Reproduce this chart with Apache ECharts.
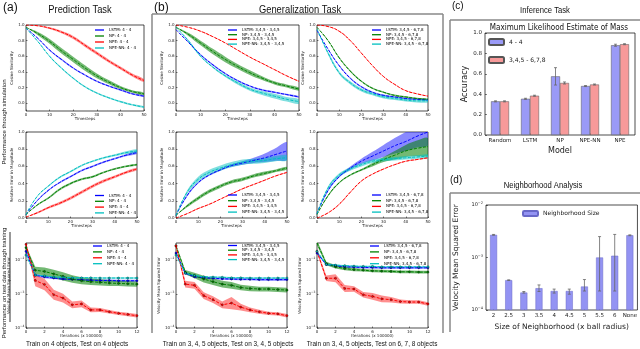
<!DOCTYPE html>
<html>
<head>
<meta charset="utf-8">
<script src="https://cdn.jsdelivr.net/npm/echarts@6.0.0/dist/echarts.min.js"></script>
<style>
html,body{margin:0;padding:0;background:#fff;}
#chart{width:640px;height:349px;}
</style>
</head>
<body>
<div id="chart"></div>
<script>
// ================= DATA =================
const TIMESTEPS = [0,5,10,15,20,25,30,35,40,45,50];
const ITERATIONS = [0,1,2,3,4,5,6,7,8,9,10,11,12];
const TIME_TICKS = [0,10,20,30,40,50];
const ITER_TICKS = [0,2,4,6,8,10,12];
const FRACTION_TICKS = [0,0.2,0.4,0.6,0.8,1.0];
const LOG_TICKS = [1e-4,1e-3,1e-2];

const NAMES_44 = ['LSTM: 4 - 4','NP: 4 - 4','NPE: 4 - 4','NPE-NN: 4 - 4'];
const NAMES_345 = ['LSTM: 3,4,5 - 3,4,5','NP: 3,4,5 - 3,4,5','NPE: 3,4,5 - 3,4,5','NPE-NN: 3,4,5 - 3,4,5'];
const NAMES_678 = ['LSTM: 3,4,5 - 6,7,8','NP: 3,4,5 - 6,7,8','NPE: 3,4,5 - 6,7,8','NPE-NN: 3,4,5 - 6,7,8'];

// (a) cosine similarity, 4 - 4
const a1_lstm = [0.96,0.83,0.68,0.56,0.45,0.36,0.28,0.22,0.17,0.12,0.09];
const a1_np   = [0.97,0.89,0.79,0.67,0.56,0.45,0.35,0.27,0.20,0.15,0.12];
const a1_npe  = [1.00,0.99,0.96,0.91,0.84,0.74,0.64,0.54,0.45,0.36,0.29];
const a1_nn   = [0.96,0.79,0.60,0.45,0.32,0.21,0.13,0.07,0.02,-0.02,-0.05];
const a1_lstm_err = [0,0.005,0.008,0.01,0.01,0.01,0.01,0.01,0.01,0.01,0.01];
const a1_np_err   = [0,0.02,0.03,0.035,0.035,0.035,0.03,0.025,0.02,0.015,0.015];
const a1_npe_err  = [0,0.005,0.01,0.015,0.02,0.02,0.02,0.02,0.02,0.02,0.02];
const a1_nn_err   = [0,0.005,0.008,0.01,0.01,0.01,0.01,0.01,0.01,0.01,0.01];

// (a) relative error in magnitude, 4 - 4
const a2_lstm = [0.04,0.20,0.32,0.41,0.48,0.55,0.60,0.65,0.69,0.73,0.76];
const a2_np   = [0.04,0.15,0.23,0.33,0.40,0.45,0.48,0.53,0.57,0.60,0.62];
const a2_npe  = [0.01,0.06,0.12,0.17,0.23,0.30,0.37,0.43,0.48,0.53,0.57];
const a2_nn   = [0.04,0.25,0.37,0.47,0.54,0.61,0.66,0.70,0.73,0.76,0.78];
const a2_lstm_err = [0,0.005,0.008,0.01,0.01,0.01,0.01,0.01,0.01,0.012,0.015];
const a2_np_err   = [0,0.008,0.01,0.012,0.012,0.012,0.012,0.01,0.01,0.01,0.01];
const a2_npe_err  = [0,0.01,0.012,0.015,0.018,0.018,0.018,0.018,0.015,0.015,0.015];
const a2_nn_err   = [0,0.005,0.008,0.01,0.01,0.01,0.01,0.01,0.012,0.015,0.02];

// (a) velocity MSE through training, 4 - 4
const a3_lstm = [1.8e-2,3.6e-3,3.2e-3,2.95e-3,2.75e-3,2.7e-3,2.6e-3,2.55e-3,2.5e-3,2.5e-3,2.45e-3,2.45e-3,2.45e-3];
const a3_np   = [2.3e-2,5.0e-3,4.6e-3,3.9e-3,3.3e-3,2.75e-3,2.45e-3,2.3e-3,2.2e-3,2.1e-3,2.05e-3,2.0e-3,1.95e-3];
const a3_npe  = [2.9e-2,2.5e-3,1.9e-3,9.5e-4,7.6e-4,4.8e-4,5.1e-4,3.4e-4,3.4e-4,3.0e-4,2.7e-4,2.5e-4,2.3e-4];
const a3_nn   = [1.4e-2,3.6e-3,3.4e-3,3.15e-3,3.1e-3,3.0e-3,3.0e-3,3.0e-3,2.95e-3,2.95e-3,2.95e-3,2.95e-3,2.95e-3];
// band half-widths in decades
const a3_lstm_err = [0.03,0.04,0.04,0.03,0.03,0.03,0.03,0.03,0.03,0.03,0.03,0.03,0.03];
const a3_np_err   = [0.05,0.10,0.12,0.12,0.12,0.11,0.10,0.10,0.09,0.09,0.08,0.08,0.08];
const a3_npe_err  = [0.05,0.17,0.17,0.15,0.13,0.10,0.10,0.07,0.06,0.05,0.05,0.05,0.05];
const a3_nn_err   = [0.02,0.02,0.02,0.02,0.02,0.02,0.02,0.02,0.02,0.02,0.02,0.02,0.02];

// (b) cosine similarity, 3,4,5 - 3,4,5
const b1_lstm = [0.94,0.78,0.62,0.49,0.38,0.29,0.22,0.17,0.14,0.11,0.08];
const b1_np   = [0.97,0.88,0.77,0.66,0.56,0.47,0.39,0.32,0.26,0.22,0.18];
const b1_npe  = [1.00,0.97,0.92,0.85,0.77,0.68,0.59,0.51,0.43,0.35,0.28];
const b1_nn   = [0.97,0.80,0.60,0.46,0.35,0.26,0.18,0.13,0.09,0.05,0.02];
const b1_lstm_err = [0,0.005,0.008,0.01,0.01,0.01,0.01,0.01,0.01,0.01,0.01];
const b1_np_err   = [0,0.02,0.03,0.035,0.035,0.03,0.03,0.025,0.02,0.02,0.02];
const b1_npe_err  = [0,0.003,0.005,0.005,0.005,0.005,0.005,0.005,0.005,0.005,0.005];
const b1_nn_err   = [0,0.01,0.01,0.01,0.015,0.02,0.02,0.025,0.03,0.03,0.03];

// (b) cosine similarity, 3,4,5 - 6,7,8
const b2_lstm = [0.93,0.69,0.48,0.32,0.21,0.14,0.10,0.08,0.06,0.05,0.04];
const b2_np   = [0.97,0.80,0.58,0.41,0.28,0.19,0.14,0.10,0.08,0.06,0.05];
const b2_npe  = [1.00,0.98,0.92,0.80,0.64,0.48,0.34,0.24,0.16,0.12,0.09];
const b2_nn   = [0.95,0.64,0.39,0.26,0.17,0.12,0.08,0.06,0.04,0.03,0.03];
const b2_lstm_err = [0,0.005,0.008,0.01,0.01,0.01,0.01,0.01,0.01,0.01,0.01];
const b2_np_err   = [0,0.008,0.01,0.01,0.01,0.01,0.01,0.01,0.01,0.01,0.01];
const b2_npe_err  = [0,0.003,0.005,0.005,0.005,0.005,0.005,0.005,0.005,0.005,0.005];
const b2_nn_err   = [0,0.02,0.02,0.02,0.02,0.02,0.02,0.02,0.02,0.02,0.02];

// (b) relative error in magnitude, 3,4,5 - 3,4,5
const bm1_lstm = [0.03,0.26,0.41,0.50,0.56,0.61,0.64,0.67,0.70,0.74,0.78];
const bm1_np   = [0.03,0.14,0.23,0.31,0.37,0.42,0.45,0.49,0.52,0.55,0.58];
const bm1_npe  = [0.00,0.05,0.11,0.16,0.22,0.28,0.34,0.39,0.44,0.49,0.53];
const bm1_nn   = [0.03,0.30,0.45,0.53,0.58,0.62,0.65,0.66,0.67,0.69,0.70];
const bm1_lstm_err = [0,0.01,0.01,0.01,0.01,0.015,0.02,0.03,0.05,0.075,0.10];
const bm1_np_err   = [0,0.015,0.02,0.02,0.02,0.02,0.02,0.02,0.02,0.015,0.015];
const bm1_npe_err  = [0,0.004,0.005,0.005,0.005,0.005,0.005,0.005,0.005,0.005,0.005];
const bm1_nn_err   = [0,0.02,0.03,0.03,0.03,0.03,0.03,0.03,0.03,0.03,0.03];

// (b) relative error in magnitude, 3,4,5 - 6,7,8
const bm2_lstm = [0.05,0.32,0.48,0.58,0.66,0.72,0.78,0.84,0.89,0.95,1.00];
const bm2_np   = [0.04,0.26,0.41,0.50,0.56,0.62,0.68,0.73,0.78,0.81,0.83];
const bm2_npe  = [0.00,0.06,0.16,0.30,0.43,0.51,0.57,0.62,0.66,0.68,0.70];
const bm2_nn   = [0.05,0.35,0.50,0.57,0.62,0.66,0.68,0.69,0.70,0.71,0.72];
const bm2_lstm_err = [0,0.01,0.01,0.02,0.03,0.05,0.07,0.09,0.11,0.13,0.15];
const bm2_np_err   = [0,0.01,0.01,0.01,0.01,0.02,0.03,0.05,0.07,0.09,0.10];
const bm2_npe_err  = [0,0.004,0.005,0.005,0.005,0.005,0.005,0.005,0.005,0.005,0.005];
const bm2_nn_err   = [0,0.02,0.02,0.02,0.02,0.02,0.02,0.02,0.02,0.02,0.02];

// (b) velocity MSE through training, 3,4,5 - 3,4,5
const bb1_lstm = [1.6e-2,4.1e-3,3.2e-3,3.0e-3,2.9e-3,2.8e-3,2.75e-3,2.7e-3,2.7e-3,2.65e-3,2.65e-3,2.65e-3,2.65e-3];
const bb1_np   = [2.6e-2,4.4e-3,3.5e-3,2.75e-3,2.3e-3,1.95e-3,1.8e-3,1.55e-3,1.45e-3,1.4e-3,1.4e-3,1.35e-3,1.3e-3];
const bb1_npe  = [2.6e-2,1.95e-3,1.8e-3,8.9e-4,6.8e-4,4.8e-4,5.4e-4,4.1e-4,3.4e-4,3.0e-4,2.7e-4,2.6e-4,2.3e-4];
const bb1_nn   = [1.4e-2,4.1e-3,3.5e-3,3.2e-3,3.15e-3,3.1e-3,3.0e-3,3.0e-3,2.95e-3,2.95e-3,2.95e-3,2.95e-3,2.95e-3];
const bb1_lstm_err = [0.03,0.03,0.03,0.03,0.03,0.03,0.03,0.03,0.03,0.03,0.03,0.03,0.03];
const bb1_np_err   = [0.05,0.06,0.08,0.10,0.10,0.10,0.10,0.08,0.08,0.07,0.07,0.07,0.07];
const bb1_npe_err  = [0.05,0.10,0.10,0.10,0.10,0.10,0.18,0.10,0.07,0.06,0.05,0.05,0.05];
const bb1_nn_err   = [0.02,0.02,0.02,0.02,0.02,0.02,0.02,0.02,0.02,0.02,0.02,0.02,0.02];

// (b) velocity MSE through training, 3,4,5 - 6,7,8
const bb2_lstm = [1.6e-2,7.4e-3,6.8e-3,6.3e-3,6.2e-3,6.0e-3,6.0e-3,5.9e-3,5.9e-3,5.9e-3,5.9e-3,5.9e-3,5.9e-3];
const bb2_np   = [3.2e-2,7.9e-3,6.3e-3,5.6e-3,5.2e-3,5.0e-3,4.8e-3,4.7e-3,4.6e-3,4.5e-3,4.5e-3,4.4e-3,4.4e-3];
const bb2_npe  = [1.8e-2,2.9e-3,2.9e-3,1.45e-3,1.4e-3,9.5e-4,8.5e-4,7.2e-4,6.8e-4,6.0e-4,5.8e-4,5.8e-4,5.1e-4];
const bb2_nn   = [1.8e-2,7.4e-3,7.1e-3,6.8e-3,6.6e-3,6.5e-3,6.5e-3,6.3e-3,6.3e-3,6.3e-3,6.3e-3,6.3e-3,6.3e-3];
const bb2_lstm_err = [0.03,0.03,0.03,0.03,0.03,0.03,0.03,0.03,0.03,0.03,0.03,0.03,0.03];
const bb2_np_err   = [0.08,0.05,0.05,0.05,0.05,0.04,0.04,0.04,0.04,0.04,0.04,0.04,0.04];
const bb2_npe_err  = [0.05,0.08,0.12,0.10,0.08,0.08,0.10,0.10,0.08,0.06,0.05,0.05,0.05];
const bb2_nn_err   = [0.02,0.02,0.02,0.02,0.02,0.02,0.02,0.02,0.02,0.02,0.02,0.02,0.02];

// (c) inference task
const C_MODELS = ['Random','LSTM','NP','NPE-NN','NPE'];
const C_SERIES = ['4 - 4','3,4,5 - 6,7,8'];
const c_44  = [0.33,0.355,0.575,0.48,0.88];
const c_678 = [0.33,0.385,0.51,0.495,0.89];
const c_44_lo  = [0.325,0.35,0.49,0.475,0.87];
const c_44_hi  = [0.335,0.36,0.66,0.485,0.89];
const c_678_lo = [0.325,0.38,0.50,0.49,0.885];
const c_678_hi = [0.335,0.39,0.52,0.50,0.895];

// (d) neighborhood analysis
const D_SIZES = ['2','2.5','3','3.5','4','4.5','5','5.5','6','None'];
const d_mse = [2.7e-3,3.7e-4,2.15e-4,2.6e-4,2.3e-4,2.3e-4,2.8e-4,1.0e-3,1.08e-3,2.65e-3];
const d_lo  = [2.65e-3,3.65e-4,2.1e-4,2.25e-4,2.1e-4,2.0e-4,2.3e-4,2.3e-4,2.3e-4,2.6e-3];
const d_hi  = [2.75e-3,3.75e-4,2.25e-4,3.0e-4,2.5e-4,2.5e-4,3.8e-4,2.5e-3,2.75e-3,2.7e-3];

// ================= BUILD =================
const SMALL = 'DejaVu Sans';
const SANS = 'Liberation Sans';
const KEYS = ['lstm','np','npe','nn'];
const LINE_COLOR = {lstm:'#0000ff', np:'#008000', npe:'#ff0000', nn:'#00bfbf'};
const BAND_COLOR = {lstm:'rgba(40,40,255,0.55)', np:'rgba(0,128,0,0.55)', npe:'rgba(255,30,30,0.5)', nn:'rgba(0,191,191,0.5)'};
const ZW = '\u200b';

const PLOTS = [
  {kind:'cos', box:[26,25,118,86], names:NAMES_44, vals:[a1_lstm,a1_np,a1_npe,a1_nn], errs:[a1_lstm_err,a1_np_err,a1_npe_err,a1_nn_err], leg:[95,28,2]},
  {kind:'err', box:[26,132,111,86], names:NAMES_44, vals:[a2_lstm,a2_np,a2_npe,a2_nn], errs:[a2_lstm_err,a2_np_err,a2_npe_err,a2_nn_err], leg:[95,193.5,1.8]},
  {kind:'log', box:[26,243,111,85], names:NAMES_44, vals:[a3_lstm,a3_np,a3_npe,a3_nn], errs:[a3_lstm_err,a3_np_err,a3_npe_err,a3_nn_err], leg:[93,244,1.9]},
  {kind:'cos', box:[176,25,123,86], names:NAMES_345, vals:[b1_lstm,b1_np,b1_npe,b1_nn], errs:[b1_lstm_err,b1_np_err,b1_npe_err,b1_nn_err], leg:[228,28,0.7]},
  {kind:'cos', box:[317,25,111,86], names:NAMES_678, vals:[b2_lstm,b2_np,b2_npe,b2_nn], errs:[b2_lstm_err,b2_np_err,b2_npe_err,b2_nn_err], leg:[372,28,0.7]},
  {kind:'err', box:[176,132,111,86], names:NAMES_345, vals:[bm1_lstm,bm1_np,bm1_npe,bm1_nn], errs:[bm1_lstm_err,bm1_np_err,bm1_npe_err,bm1_nn_err], leg:[228,193,1.7]},
  {kind:'err', box:[317,132,111,86], names:NAMES_678, vals:[bm2_lstm,bm2_np,bm2_npe,bm2_nn], errs:[bm2_lstm_err,bm2_np_err,bm2_npe_err,bm2_nn_err], leg:[372,193,1.7]},
  {kind:'log', box:[176,243,111,85], names:NAMES_345, vals:[bb1_lstm,bb1_np,bb1_npe,bb1_nn], errs:[bb1_lstm_err,bb1_np_err,bb1_npe_err,bb1_nn_err], leg:[228,243.5,0.7]},
  {kind:'log', box:[317,243,111,85], names:NAMES_678, vals:[bb2_lstm,bb2_np,bb2_npe,bb2_nn], errs:[bb2_lstm_err,bb2_np_err,bb2_npe_err,bb2_nn_err], leg:[370,244,1.9]}
];

const grid = [], xAxis = [], yAxis = [], series = [], legend = [], graphic = [];
const tick = (len) => ({show:true, inside:true, length:len, lineStyle:{color:'#000', width:0.5}});
const powLabel = e => '{b|10}{s|' + (e < 0 ? '\u2212' : '') + Math.abs(e) + '}';

// band drawn as one polygon through the axes' coordinate conversion
function bandRender(rows, color, smooth) {
  return function(params, api) {
    if (params.dataIndex !== 0) return null;
    const top = rows.map(r => api.coord([r[0], r[2]]));
    const bot = rows.map(r => api.coord([r[0], r[1]])).reverse();
    const cs = params.coordSys;
    return {type:'group', clipPath:{type:'rect', shape:{x:cs.x, y:cs.y, width:cs.width, height:cs.height}},
      children:[{type:'polygon', shape:{points:top.concat(bot), smooth:smooth}, style:{fill:color, stroke:null}}]};
  };
}

PLOTS.forEach((p, gi) => {
  const isLog = p.kind === 'log';
  const xs = isLog ? ITERATIONS : TIMESTEPS;
  const xt = isLog ? ITER_TICKS : TIME_TICKS;
  grid.push({left:p.box[0], top:p.box[1], width:p.box[2], height:p.box[3], show:true, borderColor:'#000', borderWidth:0.7, backgroundColor:'rgba(0,0,0,0)'});
  xAxis.push({gridIndex:gi, type:'value', min:xs[0], max:xs[xs.length-1],
    axisLine:{show:false, onZero:false}, splitLine:{show:false},
    axisTick:Object.assign(tick(1.5), {customValues:xt}),
    axisLabel:{fontSize:4, margin:1.5, color:'#222', fontFamily:SMALL, customValues:xt},
    name: isLog ? 'Iterations (x 100000)' : 'Timesteps', nameLocation:'middle', nameGap:5,
    nameTextStyle:{fontSize:4, color:'#222', fontFamily:SMALL}});
  let ymin, ymax, yt, fmt, yname;
  if (p.kind === 'cos') { ymin = -0.1; ymax = 1.0; yt = FRACTION_TICKS; fmt = v => v.toFixed(1); yname = 'Cosine Similarity'; }
  else if (p.kind === 'err') { ymin = 0; ymax = 1.0; yt = FRACTION_TICKS; fmt = v => v.toFixed(1); yname = 'Relative Error in Magnitude'; }
  else { ymin = -4; ymax = -1.5; yt = LOG_TICKS.map(v => Math.round(Math.log10(v))); fmt = v => powLabel(Math.round(v)); yname = 'Velocity Mean Squared Error'; }
  yAxis.push({gridIndex:gi, type:'value', min:ymin, max:ymax,
    axisLine:{show:false, onZero:false}, splitLine:{show:false},
    axisTick:Object.assign(tick(1.5), {customValues:yt}),
    axisLabel:{fontSize:4, margin:1.5, color:'#222', fontFamily:SMALL, customValues:yt, formatter:fmt,
      rich:{b:{fontSize:4, fontFamily:SMALL, color:'#222'}, s:{fontSize:3, fontFamily:SMALL, color:'#222', padding:[0,0,3,0]}}},
    name:yname, nameLocation:'middle', nameGap:isLog ? 10 : 9,
    nameTextStyle:{fontSize:4, color:'#222', fontFamily:SMALL}});
  KEYS.forEach((k, si) => {
    const v = p.vals[si].map(x => isLog ? Math.log10(x) : x);
    const e = p.errs[si];
    const rows = xs.map((x, i) => [x, v[i] - e[i], v[i] + e[i]]);
    series.push({type:'custom', xAxisIndex:gi, yAxisIndex:gi, silent:true, z:1,
      renderItem:bandRender(rows, BAND_COLOR[k], isLog ? 0 : 0.35),
      encode:{x:0, y:[1,2]}, data:rows});
  });
  const names = [];
  KEYS.forEach((k, si) => {
    const v = p.vals[si].map(x => isLog ? Math.log10(x) : x);
    const nm = p.names[si] + ZW.repeat(gi);
    names.push(nm);
    series.push({type:'line', name:nm, xAxisIndex:gi, yAxisIndex:gi, smooth:!isLog,
      symbol:isLog ? 'circle' : 'none', symbolSize:2.2,
      itemStyle:{color:LINE_COLOR[k], borderColor:'#000', borderWidth:0.3},
      lineStyle:{color:LINE_COLOR[k], width:1, type:[3,1.5]},
      data:xs.map((x, i) => [x, v[i]]), z:3});
  });
  legend.push({left:p.leg[0], top:p.leg[1], orient:'vertical', itemGap:p.leg[2], itemWidth:9, itemHeight:1.3, padding:0,
    selectedMode:false, data:names, icon:'rect', itemStyle:{borderWidth:0},
    textStyle:{fontSize:4, lineHeight:4, color:'#000', fontFamily:SMALL}});
});

// ----- (c) inference task -----
const gc = grid.length;
grid.push({left:485, top:33, width:150, height:102, show:true, borderColor:'#000', borderWidth:0.7, backgroundColor:'rgba(0,0,0,0)'});
xAxis.push({gridIndex:gc, type:'category', data:C_MODELS,
  axisLine:{show:false}, axisTick:Object.assign(tick(2), {alignWithLabel:true}), splitLine:{show:false},
  axisLabel:{fontSize:5.5, margin:3, color:'#222', fontFamily:SMALL},
  name:'Model', nameLocation:'middle', nameGap:12, nameTextStyle:{fontSize:8, color:'#222', fontFamily:SMALL}});
yAxis.push({gridIndex:gc, type:'value', min:0, max:1, interval:0.2,
  axisLine:{show:false}, axisTick:tick(2), splitLine:{show:false},
  axisLabel:{fontSize:5.5, margin:3, color:'#222', fontFamily:SMALL, formatter:v => v.toFixed(1)},
  name:'Accuracy', nameLocation:'middle', nameGap:15, nameTextStyle:{fontSize:8, color:'#222', fontFamily:SMALL}});
const cColors = ['#9a9af7','#f79a9a'];
[c_44, c_678].forEach((vals, si) => {
  series.push({type:'bar', name:C_SERIES[si], xAxisIndex:gc, yAxisIndex:gc, data:vals, barWidth:9, barGap:'0%',
    itemStyle:{color:cColors[si], borderColor:'#555', borderWidth:0.5}, z:2});
});
function errRender(offset, cap) {
  return function(params, api) {
    const x = api.value(0), lo = api.value(1), hi = api.value(2);
    const p1 = api.coord([x, lo]), p2 = api.coord([x, hi]);
    const cx = p1[0] + offset;
    return {type:'group', children:[
      {type:'line', shape:{x1:cx, y1:p1[1], x2:cx, y2:p2[1]}, style:{stroke:'#666', lineWidth:0.8}},
      {type:'line', shape:{x1:cx - cap, y1:p1[1], x2:cx + cap, y2:p1[1]}, style:{stroke:'#666', lineWidth:0.8}},
      {type:'line', shape:{x1:cx - cap, y1:p2[1], x2:cx + cap, y2:p2[1]}, style:{stroke:'#666', lineWidth:0.8}}
    ]};
  };
}
series.push({type:'custom', xAxisIndex:gc, yAxisIndex:gc, renderItem:errRender(-4.5, 1.5), silent:true, z:4,
  data:C_MODELS.map((m, i) => [i, c_44_lo[i], c_44_hi[i]])});
series.push({type:'custom', xAxisIndex:gc, yAxisIndex:gc, renderItem:errRender(4.5, 1.5), silent:true, z:4,
  data:C_MODELS.map((m, i) => [i, c_678_lo[i], c_678_hi[i]])});
legend.push({left:488, top:38, orient:'vertical', itemGap:10, itemWidth:15, itemHeight:6, padding:0, selectedMode:false,
  data:C_SERIES, textStyle:{fontSize:6, color:'#222', fontFamily:SMALL}});

// ----- (d) neighborhood analysis -----
const gd = grid.length;
grid.push({left:486, top:205, width:152, height:105, show:true, borderColor:'#000', borderWidth:0.7, backgroundColor:'rgba(0,0,0,0)'});
xAxis.push({gridIndex:gd, type:'category', data:D_SIZES,
  axisLine:{show:false}, axisTick:Object.assign(tick(2), {alignWithLabel:true}), splitLine:{show:false},
  axisLabel:{fontSize:5.5, margin:3, color:'#222', fontFamily:SMALL, interval:0},
  name:'Size of Neighborhood (x ball radius)', nameLocation:'middle', nameGap:13,
  nameTextStyle:{fontSize:7.5, color:'#222', fontFamily:SMALL}});
yAxis.push({gridIndex:gd, type:'log', logBase:10, min:1e-4, max:1e-2, startValue:1e-4,
  axisLine:{show:false}, axisTick:tick(2), splitLine:{show:false},
  axisLabel:{fontSize:5, margin:3, color:'#222', fontFamily:SMALL, formatter:v => powLabel(Math.round(Math.log10(v))),
    rich:{b:{fontSize:5, fontFamily:SMALL, color:'#222'}, s:{fontSize:3.5, fontFamily:SMALL, color:'#222', padding:[0,0,3,0]}}},
  name:'Velocity Mean Squared Error', nameLocation:'middle', nameGap:26,
  nameTextStyle:{fontSize:7.5, color:'#222', fontFamily:SMALL}});
series.push({type:'bar', name:'Neighborhood Size', xAxisIndex:gd, yAxisIndex:gd, data:d_mse, barWidth:7,
  itemStyle:{color:'#9393f3', borderColor:'#6868c8', borderWidth:0.5}, z:2});
series.push({type:'custom', xAxisIndex:gd, yAxisIndex:gd, renderItem:errRender(0, 1.5), silent:true, z:4,
  data:D_SIZES.map((s, i) => [i, d_lo[i], d_hi[i]])});
legend.push({left:522, top:210, itemWidth:15, itemHeight:5, padding:0, selectedMode:false,
  data:['Neighborhood Size'], textStyle:{fontSize:6, color:'#222', fontFamily:SMALL}});

// ----- figure texts and frames -----
function txt(text, x, y, size, opts) {
  opts = opts || {};
  graphic.push({type:'text', x:x, y:y, rotation:opts.rot || 0, scaleX:opts.sx || 1, silent:true,
    style:{text:text, fill:'#111', font:size + 'px "' + (opts.font || SANS) + '"', align:opts.align || 'center', verticalAlign:'middle'}});
}
function ln(x1, y1, x2, y2, c, w) {
  graphic.push({type:'line', silent:true, shape:{x1:x1, y1:y1, x2:x2, y2:y2}, style:{stroke:c || '#888', lineWidth:w || 1.5}});
}
txt('(a)', 3, 8, 12, {align:'left'});
txt('Prediction Task', 80, 10, 11, {sx:0.85});
txt('(b)', 154, 8, 12, {align:'left'});
txt('Generalization Task', 300, 10, 11, {sx:0.85});
txt('(c)', 452, 6, 10, {align:'left'});
txt('Inference Task', 545, 11, 9, {sx:0.85});
txt('(d)', 450, 180, 10, {align:'left'});
txt('Neighborhood Analysis', 543, 186, 9, {sx:0.85});
txt('Maximum Likelihood Estimate of Mass', 559, 28, 8.5, {font:SMALL, sx:0.85});
txt('Train on 4 objects, Test on 4 objects', 77, 344, 8, {sx:0.8});
txt('Train on 3, 4, 5 objects, Test on 3, 4, 5 objects', 228, 344, 8, {sx:0.8});
txt('Train on 3, 4, 5 objects, Test on 6, 7, 8 objects', 372, 344, 8, {sx:0.8});
txt('Performance through simulation', 4, 122, 6, {rot:Math.PI / 2});
txt('Performance on test data through training', 4, 283, 6, {rot:Math.PI / 2});
ln(152, 14, 152, 333);
ln(152, 14, 443, 14);
ln(443, 14, 443, 333);
ln(450, 20, 640, 20);
ln(450, 20, 450, 162);
ln(450, 193, 640, 193);
ln(450, 193, 450, 332);
ln(10, 232, 10, 322, '#333', 1);

const chart = echarts.init(document.getElementById('chart'), null, {renderer:'canvas'});
chart.setOption({animation:false, backgroundColor:'#fff', grid, xAxis, yAxis, series, legend, graphic});
</script>
</body>
</html>
